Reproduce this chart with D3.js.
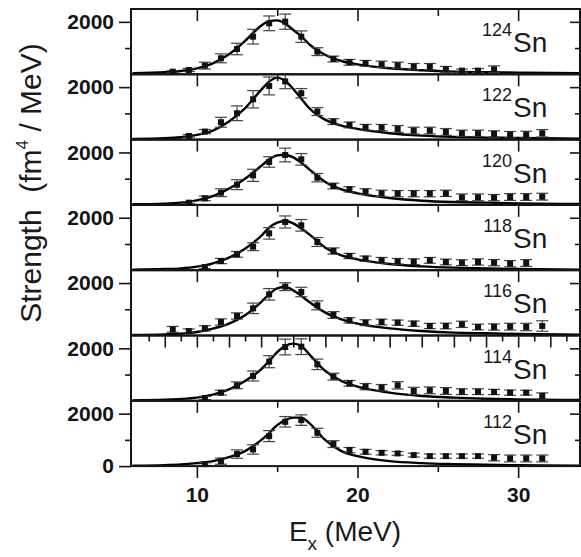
<!DOCTYPE html>
<html>
<head>
<meta charset="utf-8">
<title>Sn strength</title>
<style>
  body { margin: 0; background: #fff; }
  .tick text { font-family: "Liberation Sans", Arial, sans-serif; font-weight: bold; font-size: 21px; fill: #151515; }
  .tick line { stroke: #151515; stroke-width: 1.6px; }
  .frame { fill: none; stroke: #151515; stroke-width: 2px; }
  .fit { fill: none; stroke: #000; stroke-width: 2.4px; }
  .err { stroke: #444; stroke-width: 1.2px; fill: none; }
  .pt { fill: #111; }
  .lbl { font-family: "Liberation Sans", Arial, sans-serif; fill: #1a1a1a; }
</style>
<script src="https://d3js.org/d3.v7.min.js"></script>
</head>
<body>
<svg id="chart" width="581" height="557"></svg>
<script>
// isotopes, top to bottom
var isotopes = ["124", "122", "120", "118", "116", "114", "112"];

// fitted curve, sampled on a common energy grid (MeV)
var curveE = [6, 8, 9, 10, 11, 12, 13, 14, 14.5, 15, 15.5, 16, 16.5, 17, 18, 19, 20, 22, 24, 26, 28, 30, 34];
var fit124 = [38, 76, 127, 229, 420, 762, 1270, 1855, 2030, 2057, 1930, 1690, 1450, 1143, 737, 508, 381, 229, 152, 102, 76, 63, 38];
var fit122 = [25, 50, 89, 178, 343, 686, 1195, 1894, 2211, 2364, 2237, 1932, 1560, 1195, 750, 534, 407, 241, 152, 102, 76, 63, 38];
var fit120 = [22, 47, 85, 174, 339, 619, 1000, 1483, 1738, 1890, 1915, 1814, 1610, 1356, 873, 593, 441, 263, 161, 111, 85, 60, 34];
var fit118 = [20, 46, 71, 135, 262, 478, 821, 1304, 1621, 1812, 1875, 1786, 1590, 1367, 859, 567, 414, 236, 147, 97, 71, 46, 20];
var fit116 = [19, 44, 70, 133, 260, 451, 769, 1277, 1570, 1798, 1849, 1722, 1510, 1277, 871, 616, 451, 273, 172, 108, 83, 57, 32];
var fit114 = [18, 43, 69, 120, 234, 437, 755, 1200, 1517, 1860, 2090, 2180, 2090, 1770, 1136, 755, 539, 310, 183, 120, 81, 56, 30];
var fit112 = [19, 38, 60, 114, 190, 343, 572, 991, 1258, 1563, 1754, 1850, 1850, 1640, 991, 572, 381, 190, 114, 76, 50, 30, 19];

// measured points: energy, strength, error
var ex124 = [8.5, 9.5, 10.5, 11.5, 12.5, 13.5, 14.5, 15.5, 16.5, 17.5, 18.5, 19.5, 20.5, 21.5, 22.5, 23.5, 24.5, 25.5, 26.5, 27.5, 28.5];
var s124 = [100, 165, 330, 610, 965, 1435, 1944, 2007, 1435, 864, 584, 457, 419, 381, 343, 292, 292, 190, 140, 140, 190];
var err124 = [40, 60, 130, 170, 220, 280, 280, 290, 220, 150, 110, 110, 110, 120, 120, 120, 120, 110, 60, 80, 130];

var ex122 = [9.5, 10.5, 11.5, 12.5, 13.5, 14.5, 15.5, 16.5, 17.5, 18.5, 19.5, 20.5, 21.5, 22.5, 23.5, 24.5, 25.5, 26.5, 27.5, 28.5, 29.5, 30.5, 31.5];
var s122 = [140, 305, 661, 1004, 1538, 2046, 2220, 1767, 1068, 686, 559, 470, 458, 407, 343, 343, 292, 241, 241, 216, 190, 190, 241];
var err122 = [50, 80, 190, 280, 330, 340, 280, 180, 150, 110, 110, 110, 120, 130, 130, 130, 130, 120, 120, 120, 120, 130, 140];

var ex120 = [9.5, 10.5, 11.5, 12.5, 13.5, 14.5, 15.5, 16.5, 17.5, 18.5, 19.5, 20.5, 21.5, 22.5, 23.5, 24.5, 25.5, 26.5, 27.5, 28.5, 29.5, 30.5, 31.5];
var s120 = [85, 250, 466, 771, 1127, 1636, 1903, 1738, 1038, 720, 593, 505, 441, 428, 428, 428, 441, 288, 288, 276, 301, 301, 314];
var err120 = [40, 90, 150, 190, 230, 200, 260, 220, 160, 110, 100, 110, 120, 120, 120, 120, 120, 130, 130, 120, 130, 130, 130];

var ex118 = [10.5, 11.5, 12.5, 13.5, 14.5, 15.5, 16.5, 17.5, 18.5, 19.5, 20.5, 21.5, 22.5, 23.5, 24.5, 25.5, 26.5, 27.5, 28.5, 29.5, 30.5];
var s118 = [120, 350, 605, 897, 1405, 1839, 1711, 1075, 732, 541, 440, 376, 338, 325, 376, 313, 287, 313, 287, 249, 275];
var err118 = [60, 100, 110, 150, 220, 230, 220, 170, 120, 100, 100, 110, 110, 110, 110, 110, 110, 120, 120, 120, 130];

var ex116 = [8.5, 9.5, 10.5, 11.5, 12.5, 13.5, 14.5, 15.5, 16.5, 17.5, 18.5, 19.5, 20.5, 21.5, 22.5, 23.5, 24.5, 25.5, 26.5, 27.5, 28.5, 29.5, 30.5, 31.5];
var s116 = [235, 172, 273, 515, 744, 1036, 1570, 1862, 1659, 1150, 782, 578, 489, 515, 489, 451, 362, 362, 426, 324, 324, 337, 324, 362];
var err116 = [110, 80, 100, 120, 120, 200, 220, 150, 180, 170, 130, 100, 110, 110, 100, 100, 100, 110, 120, 110, 120, 130, 140, 200];

var ex114 = [10.5, 11.5, 12.5, 13.5, 14.5, 15.5, 16.5, 17.5, 18.5, 19.5, 20.5, 21.5, 22.5, 23.5, 24.5, 25.5, 26.5, 27.5, 28.5, 29.5, 30.5, 31.5];
var s114 = [107, 310, 590, 946, 1492, 2051, 2064, 1390, 920, 666, 539, 501, 590, 374, 399, 374, 348, 348, 336, 310, 310, 183];
var err114 = [60, 90, 130, 190, 230, 300, 300, 200, 130, 110, 120, 120, 140, 140, 130, 130, 110, 110, 100, 100, 90, 120];

var ex112 = [10.5, 11.5, 12.5, 13.5, 14.5, 15.5, 16.5, 17.5, 18.5, 19.5, 20.5, 21.5, 22.5, 23.5, 24.5, 25.5, 26.5, 27.5, 28.5, 29.5, 30.5, 31.5];
var s112 = [76, 191, 458, 636, 1144, 1689, 1754, 1271, 839, 610, 546, 508, 483, 419, 381, 381, 381, 381, 318, 292, 292, 292];
var err112 = [50, 120, 160, 180, 210, 200, 200, 170, 130, 100, 90, 80, 70, 70, 80, 80, 80, 80, 120, 130, 130, 130];

var panels = [
    { a: isotopes[0], ex: ex124, s: s124, err: err124, fit: fit124 },
    { a: isotopes[1], ex: ex122, s: s122, err: err122, fit: fit122 },
    { a: isotopes[2], ex: ex120, s: s120, err: err120, fit: fit120 },
    { a: isotopes[3], ex: ex118, s: s118, err: err118, fit: fit118 },
    { a: isotopes[4], ex: ex116, s: s116, err: err116, fit: fit116 },
    { a: isotopes[5], ex: ex114, s: s114, err: err114, fit: fit114 },
    { a: isotopes[6], ex: ex112, s: s112, err: err112, fit: fit112 }
];

var svg = d3.select("#chart");
var left = 131, right = 580;
var top0 = 9, ph = 65.3;

var x = d3.scaleLinear().domain([5.9, 33.85]).range([left, right]);

panels.forEach(function(p, i) {
    var y0 = top0 + i * ph, y1 = y0 + ph;
    var y = d3.scaleLinear().domain([0, 2490]).range([y1, y0]);
    var g = svg.append("g");

    svg.append("clipPath").attr("id", "clip" + i)
        .append("rect").attr("x", left).attr("y", y0).attr("width", right - left).attr("height", ph);

    // fit curve
    var line = d3.line()
        .x(function(d) { return x(d[0]); })
        .y(function(d) { return y(d[1]); })
        .curve(d3.curveMonotoneX);
    g.append("path")
        .datum(curveE.map(function(e, k) { return [e, p.fit[k]]; }))
        .attr("class", "fit")
        .attr("clip-path", "url(#clip" + i + ")")
        .attr("d", line);

    // error bars
    var pts = p.ex.map(function(e, k) { return { e: e, s: p.s[k], d: p.err[k] }; });
    var eb = g.selectAll(".eb").data(pts).enter().append("g");
    eb.append("line").attr("class", "err")
        .attr("x1", function(d) { return x(d.e); }).attr("x2", function(d) { return x(d.e); })
        .attr("y1", function(d) { return y(d.s - d.d); }).attr("y2", function(d) { return y(d.s + d.d); });
    eb.append("line").attr("class", "err")
        .attr("x1", function(d) { return x(d.e) - 6; }).attr("x2", function(d) { return x(d.e) + 6; })
        .attr("y1", function(d) { return y(d.s + d.d); }).attr("y2", function(d) { return y(d.s + d.d); });
    eb.append("line").attr("class", "err")
        .attr("x1", function(d) { return x(d.e) - 6; }).attr("x2", function(d) { return x(d.e) + 6; })
        .attr("y1", function(d) { return y(d.s - d.d); }).attr("y2", function(d) { return y(d.s - d.d); });

    // markers
    g.selectAll(".pt").data(pts).enter().append("rect")
        .attr("class", "pt")
        .attr("x", function(d) { return x(d.e) - 3; })
        .attr("y", function(d) { return y(d.s) - 3; })
        .attr("width", 6).attr("height", 6);

    // inward ticks along the top edge
    var topMajor, topMinor;
    if (i === 5) {
        topMajor = d3.axisBottom(x).tickValues([8, 10, 12, 14, 16, 18, 20, 22, 24, 26, 28, 30, 32]).tickSize(12).tickFormat("");
        topMinor = d3.axisBottom(x).tickValues([7, 9, 11, 13, 15, 17, 19, 21, 23, 25, 27, 29, 31, 33]).tickSize(6).tickFormat("");
    } else {
        topMajor = d3.axisBottom(x).tickValues([10, 20, 30]).tickSize(12).tickFormat("");
        topMinor = d3.axisBottom(x).tickValues([15, 25]).tickSize(7).tickFormat("");
    }
    g.append("g").attr("transform", "translate(0," + y0 + ")").call(topMajor).call(function(s) { s.select(".domain").remove(); });
    g.append("g").attr("transform", "translate(0," + y0 + ")").call(topMinor).call(function(s) { s.select(".domain").remove(); });

    // left axis
    var lv = i === 6 ? [0, 2000] : [2000];
    g.append("g").attr("transform", "translate(" + left + ",0)")
        .call(d3.axisLeft(y).tickValues(lv).tickSize(12).tickPadding(5).tickFormat(d3.format("d")))
        .call(function(s) { s.select(".domain").remove(); });
    g.append("g").attr("transform", "translate(" + left + ",0)")
        .call(d3.axisLeft(y).tickValues([1000]).tickSize(6).tickFormat(""))
        .call(function(s) { s.select(".domain").remove(); });

    // right axis, inward ticks
    g.append("g").attr("transform", "translate(" + right + ",0)")
        .call(d3.axisLeft(y).tickValues([2000]).tickSize(10).tickFormat(""))
        .call(function(s) { s.select(".domain").remove(); });
    g.append("g").attr("transform", "translate(" + right + ",0)")
        .call(d3.axisLeft(y).tickValues([1000]).tickSize(5).tickFormat(""))
        .call(function(s) { s.select(".domain").remove(); });

    // frame
    g.append("rect").attr("class", "frame")
        .attr("x", left).attr("y", y0).attr("width", right - left).attr("height", ph);

    // isotope label
    g.append("text").attr("class", "lbl")
        .attr("x", 512).attr("y", y0 + 27)
        .attr("text-anchor", "end")
        .style("font-size", "18px")
        .text(p.a);
    g.append("text").attr("class", "lbl")
        .attr("x", 513).attr("y", y0 + 43)
        .style("font-size", "28px")
        .text("Sn");
});

// bottom axis
var yb = top0 + 7 * ph;
svg.append("g").attr("transform", "translate(0," + yb + ")")
    .call(d3.axisBottom(x).tickValues([10, 20, 30]).tickSize(12).tickPadding(9))
    .call(function(s) { s.select(".domain").remove(); });
svg.append("g").attr("transform", "translate(0," + yb + ")")
    .call(d3.axisBottom(x).tickValues([15, 25]).tickSize(6).tickFormat(""))
    .call(function(s) { s.select(".domain").remove(); });

// axis titles
var xt = svg.append("text").attr("class", "lbl")
    .attr("x", 345).attr("y", 541)
    .attr("text-anchor", "middle")
    .style("font-size", "28px");
xt.append("tspan").text("E");
xt.append("tspan").attr("dy", 9).style("font-size", "19px").text("x");
xt.append("tspan").attr("dy", -9).text(" (MeV)");

var yt = svg.append("text").attr("class", "lbl")
    .attr("transform", "translate(41,183) rotate(-90)")
    .attr("text-anchor", "middle")
    .style("font-size", "30px");
yt.append("tspan").text("Strength\u00a0 (fm");
yt.append("tspan").attr("dy", -13).style("font-size", "17px").text("4");
yt.append("tspan").attr("dy", 13).text(" / MeV)");
</script>
</body>
</html>
